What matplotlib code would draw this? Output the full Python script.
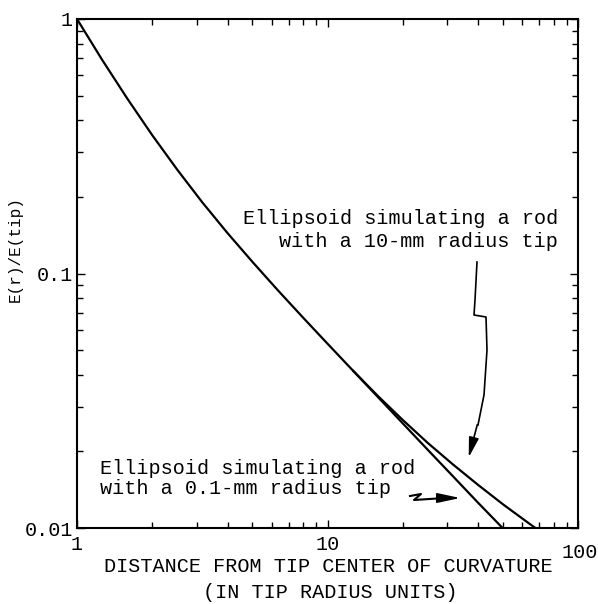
import matplotlib
matplotlib.use("Agg")
import matplotlib.pyplot as plt
from matplotlib.lines import Line2D
from matplotlib.patches import FancyArrowPatch
from matplotlib.ticker import NullFormatter, FixedLocator, LogLocator

# ---- data ----
x_shared = [1.0, 1.259, 1.585, 1.995, 2.512, 3.162, 3.981, 5.012, 6.31, 7.943, 10.0, 12.59]
y_shared = [1.0, 0.692, 0.488, 0.350, 0.256, 0.1905, 0.1445, 0.1112, 0.0863, 0.0675, 0.0530, 0.0417]

x_tip01 = [12.59, 15.85, 19.95, 25.12, 31.62, 39.81, 50.0]
y_tip01 = [0.0417, 0.0328, 0.0258, 0.0203, 0.0160, 0.0126, 0.0100]

x_tip10 = [12.59, 15.85, 19.95, 25.12, 31.62, 39.81, 50.12, 63.1, 67.6]
y_tip10 = [0.0417, 0.0331, 0.0266, 0.0216, 0.0178, 0.0148, 0.0124, 0.0105, 0.0100]

xticks = [1, 10, 100]
xtick_labels = ["1", "10", ""]
yticks = [0.01, 0.1, 1]
ytick_labels = ["0.01", "0.1", "1"]

W, H = 598, 604
FONT = "Liberation Mono"

fig = plt.figure(figsize=(W / 100, H / 100), dpi=100)
ax = fig.add_axes([77 / W, 1 - 528 / H, (578 - 77) / W, (528 - 19) / H])

ax.set_xscale("log")
ax.set_yscale("log")
ax.set_xlim(1, 100)
ax.set_ylim(0.01, 1)

ax.plot(x_shared + x_tip01[1:], y_shared + y_tip01[1:], color="black", lw=1.6,
        solid_joinstyle="round", solid_capstyle="butt")
ax.plot(x_tip10, y_tip10, color="black", lw=1.6, solid_joinstyle="round",
        solid_capstyle="butt")

for s in ax.spines.values():
    s.set_linewidth(1.5)

ax.xaxis.set_major_locator(FixedLocator(xticks))
ax.yaxis.set_major_locator(FixedLocator(yticks))
ax.xaxis.set_minor_locator(LogLocator(base=10, subs=range(2, 10)))
ax.yaxis.set_minor_locator(LogLocator(base=10, subs=range(2, 10)))
ax.xaxis.set_minor_formatter(NullFormatter())
ax.yaxis.set_minor_formatter(NullFormatter())
ax.set_xticklabels(xtick_labels, fontfamily=FONT, fontsize=14.5)
ax.set_yticklabels(ytick_labels, fontfamily=FONT, fontsize=14.5)
ax.tick_params(which="both", direction="in", top=True, right=True, width=1, colors="black")
ax.tick_params(which="major", length=6, pad=5)
ax.tick_params(axis="y", which="major", pad=3)
ax.tick_params(which="minor", length=4)


def fp(px, py):
    return (px / W, 1 - py / H)


# stray "100" label placed as in the reference
fig.text(*fp(580, 552), "100", fontfamily=FONT, fontsize=14.5, ha="center", va="center")

# axis titles
fig.text(*fp(328, 566), "DISTANCE FROM TIP CENTER OF CURVATURE", fontfamily=FONT,
         fontsize=14.5, ha="center", va="center")
fig.text(*fp(330, 592), "(IN TIP RADIUS UNITS)", fontfamily=FONT,
         fontsize=14.5, ha="center", va="center")
fig.text(*fp(15, 249), "E(r)/E(tip)", fontfamily=FONT, fontsize=11.5,
         rotation=90, ha="center", va="center")

# annotation texts
fig.text(*fp(558, 218), "Ellipsoid simulating a rod", fontfamily=FONT, fontsize=14.5,
         ha="right", va="center")
fig.text(*fp(558, 242), "with a 10-mm radius tip", fontfamily=FONT, fontsize=14.5,
         ha="right", va="center")
fig.text(*fp(100, 468), "Ellipsoid simulating a rod", fontfamily=FONT, fontsize=14.5,
         ha="left", va="center")
fig.text(*fp(100, 489), "with a 0.1-mm radius tip", fontfamily=FONT, fontsize=14.5,
         ha="left", va="center")

# hand-drawn arrow 1 (zig-zag)
p1 = [(477, 262), (475, 300), (474, 315), (486, 317), (487, 350), (484, 395), (478, 425)]
fig.add_artist(Line2D([fp(*p)[0] for p in p1], [fp(*p)[1] for p in p1],
                      color="black", lw=1.2, transform=fig.transFigure))
fig.add_artist(FancyArrowPatch(
    fp(478, 422), fp(468, 460), transform=fig.transFigure,
    arrowstyle="-|>,head_length=12,head_width=3", color="black", lw=1.2,
    mutation_scale=1))

# hand-drawn arrow 2 (squiggle)
p2 = [(410, 496), (421, 494), (414, 500), (445, 498)]
fig.add_artist(Line2D([fp(*p)[0] for p in p2], [fp(*p)[1] for p in p2],
                      color="black", lw=1.5, transform=fig.transFigure))
fig.add_artist(FancyArrowPatch(
    fp(440, 498), fp(463, 498), transform=fig.transFigure,
    arrowstyle="-|>,head_length=14,head_width=3", color="black", lw=1.2,
    mutation_scale=1))

fig.savefig("out.png", dpi=100, facecolor="white")
